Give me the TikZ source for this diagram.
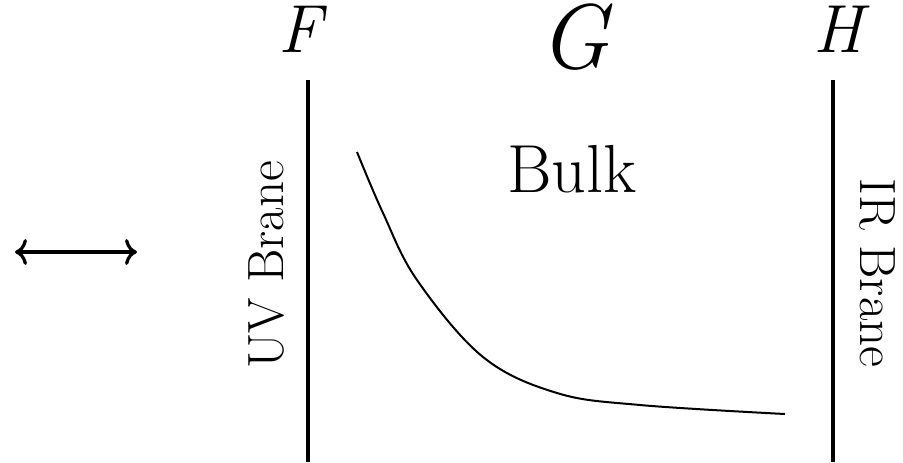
\documentclass[tikz,border=0pt]{standalone}
\usetikzlibrary{arrows.meta}
\tikzset{
  brane/.style={line width=2.4pt},
  profile/.style={line width=1pt},
  dualarrow/.style={{Computer Modern Rightarrow[length=6pt,width=13pt]}-{Computer Modern Rightarrow[length=6pt,width=13pt]}, line width=1.6pt},
  sitelabel/.style={anchor=base, inner sep=0pt, font=\fontsize{34}{40}\selectfont\itshape},
  branelabel/.style={anchor=base, inner sep=0pt, font=\fontsize{25.5}{30}\selectfont},
}

\begin{document}
\begin{tikzpicture}[x=0.5pt,y=-0.5pt]
  \useasboundingbox (0,0) rectangle (903,462);

  % duality arrow
  \coordinate (dualL) at (15,252);
  \coordinate (dualR) at (137,252);
  \draw[dualarrow] (dualL) -- (dualR);

  % branes
  \coordinate (uvtop) at (308,80);
  \coordinate (uvbot) at (308,462);
  \coordinate (irtop) at (833,80);
  \coordinate (irbot) at (833,462);
  \draw[brane] (uvtop) -- (uvbot);
  \draw[brane] (irtop) -- (irbot);

  \node[sitelabel] (fsite) at (300,52) {F};
  \node[sitelabel, font=\fontsize{46}{52}\selectfont\itshape] (gsite) at (574,68) {G};
  \node[sitelabel] (hsite) at (838,52) {H};

  \node[branelabel, rotate=90] (uvlabel) at (283,265) {UV Brane};
  \node[branelabel, rotate=-90] (irlabel) at (860,273) {IR Brane};
  \node[branelabel, font=\fontsize{34}{40}\selectfont] (bulk) at (572,192) {Bulk};

  % warp profile
  \draw[profile] plot[smooth, tension=0.6] coordinates
    {(357,152) (383,213) (417,280) (483,357) (557,393) (640,405) (785,414)};
\end{tikzpicture}
\end{document}
